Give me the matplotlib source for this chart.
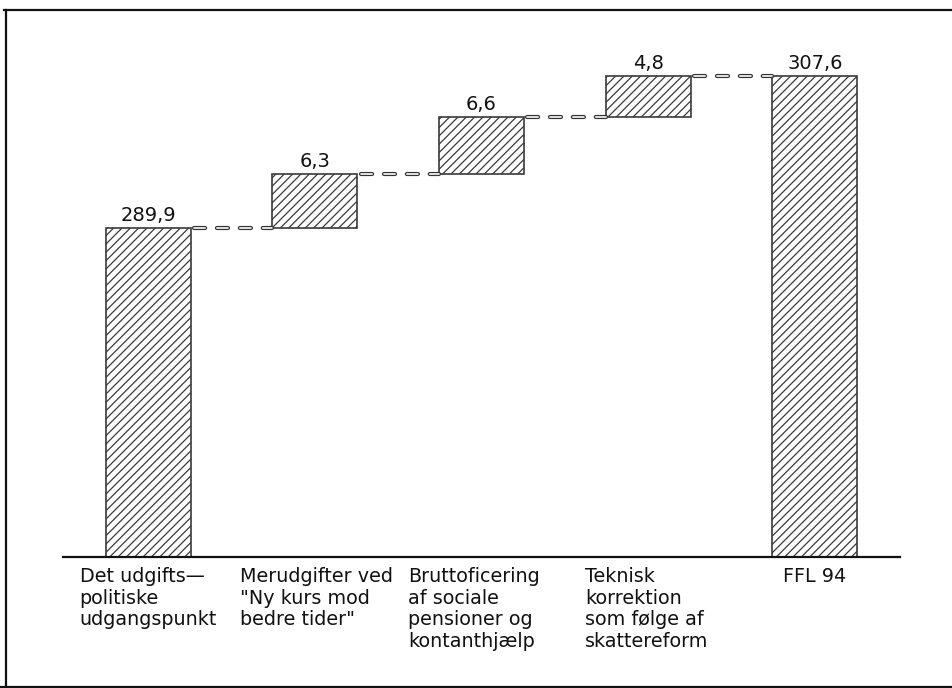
import matplotlib
matplotlib.use("Agg")
import matplotlib.pyplot as plt
import matplotlib.transforms as mtransforms
from matplotlib.lines import Line2D

plt.rcParams['lines.scale_dashes'] = False
plt.rcParams['hatch.linewidth'] = 0.9
plt.rcParams['font.family'] = ['DejaVu Sans']

categories = [
    "Det udgifts—\npolitiske\nudgangspunkt",
    "Merudgifter ved\n\"Ny kurs mod\nbedre tider\"",
    "Bruttoficering\naf sociale\npensioner og\nkontanthjælp",
    "Teknisk\nkorrektion\nsom følge af\nskattereform",
    "FFL 94",
]
values = [289.9, 6.3, 6.6, 4.8, 307.6]
is_total = [True, False, False, False, True]
label_dx = [-0.41, -0.45, -0.44, -0.38, -0.19]

W, H = 952, 688
fig = plt.figure(figsize=(W / 100, H / 100), dpi=100)
ybase = 251.6
px_per_unit = 8.59
ax_left, ax_right = 63, 900
ax_bottom_px, ax_top_px = 557, 40
ax = fig.add_axes([ax_left / W, (H - ax_bottom_px) / H,
                   (ax_right - ax_left) / W, (ax_bottom_px - ax_top_px) / H])
ax.set_xlim(-0.51, 4.51)
ax.set_ylim(ybase, ybase + (ax_bottom_px - ax_top_px) / px_per_unit)

width = 0.51
cum = 0.0
tops = []
for i, (v, tot) in enumerate(zip(values, is_total)):
    if tot:
        bottom = ybase
        top = v
        cum = v
    else:
        bottom = cum
        top = cum + v
        cum = top
    ax.bar(i, top - bottom, bottom=bottom, width=width, color='white',
           edgecolor='#3a3a3a', linewidth=1.2, hatch='////', zorder=2)
    txt = f"{v:.1f}".replace('.', ',')
    ax.annotate(txt, (i, top), xytext=(0, 2), textcoords='offset points',
                ha='center', va='bottom', fontsize=14, color='#111111')
    tops.append(top)

# connectors
for i in range(len(values) - 1):
    y = tops[i]
    x0 = i + width / 2 + 0.02
    x1 = i + 1 - width / 2
    ax.plot([x0, x1], [y, y], color='#333333', lw=3.0,
            dashes=(8, 8.5), dash_capstyle='round', zorder=3)
    ax.plot([x0, x1], [y, y], color='white', lw=1.2,
            dashes=(8, 8.5), dash_capstyle='round', zorder=4)

# category labels
trans = mtransforms.blended_transform_factory(ax.transData, ax.transAxes)
for i, lab in enumerate(categories):
    ax.text(i + label_dx[i], -10 / (ax_bottom_px - ax_top_px), lab,
            transform=trans, ha='left', va='top', fontsize=13.8,
            linespacing=1.18, color='#111111')

for s in ['top', 'right', 'left']:
    ax.spines[s].set_visible(False)
ax.spines['bottom'].set_linewidth(1.6)
ax.spines['bottom'].set_color('#111111')
ax.spines['bottom'].set_zorder(5)
ax.set_xticks([])
ax.set_yticks([])

# page frame
def fx(px):
    return px / W
def fy(py):
    return 1 - py / H
fig.add_artist(Line2D([fx(4), fx(952)], [fy(10), fy(10)], color='#111111', lw=1.6))
fig.add_artist(Line2D([fx(6), fx(6)], [fy(10), fy(688)], color='#111111', lw=1.6))
fig.add_artist(Line2D([fx(0), fx(952)], [fy(686.5), fy(686.5)], color='#111111', lw=1.6))

fig.savefig("out.png", dpi=100)
